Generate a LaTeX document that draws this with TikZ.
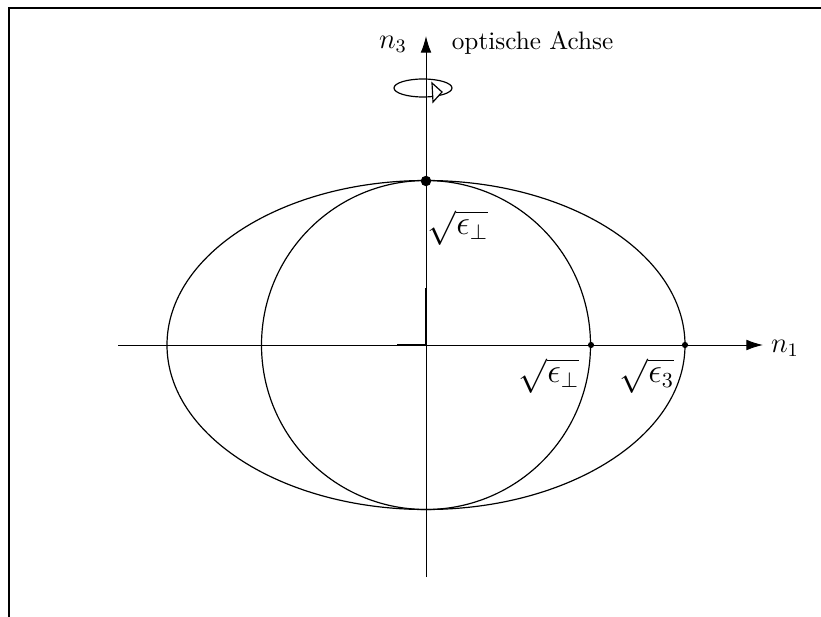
\documentclass[tikz,border=0pt]{standalone}
\usetikzlibrary{arrows.meta,positioning}

\begin{document}
\begin{tikzpicture}[x=0.42pt,y=-0.42pt,
  axis/.style={-{Latex[length=7pt,width=4.5pt]},line width=0.4pt},
  dotsm/.style={circle,fill=black,inner sep=0pt,minimum size=2.6pt},
  dotbig/.style={circle,fill=black,inner sep=0pt,minimum size=4.4pt},
  lbl/.style={inner sep=1pt,font=\fontsize{12}{14}\selectfont},
  rootlbl/.style={inner sep=1pt,font=\fontsize{13.5}{16}\selectfont},
  txt/.style={inner sep=1pt,font=\fontsize{10.6}{13}\selectfont}
]
  \useasboundingbox (0,0) rectangle (821,617);
  \draw[line width=0.8pt] (9,617) -- (9,8) -- (821,8);

  % axes
  \coordinate (O)  at (426,345);
  \coordinate (xs) at (118,345);
  \coordinate (xe) at (763,345);
  \coordinate (ys) at (426,577);
  \coordinate (ye) at (426,36);
  \draw[axis] (xs) -- (xe);
  \draw[axis] (ys) -- (ye);
  \draw[line width=0.8pt] (397,345) -- (O) -- (426,288);

  % circle and ellipse
  \draw[line width=0.5pt] (O) circle[radius=164.5];
  \draw[line width=0.5pt] (O) ellipse[x radius=259,y radius=164.5];

  % rotation sign
  \draw[line width=0.5pt] (423,88) ellipse[x radius=29,y radius=9];
  \draw[line width=0.5pt,fill=white] (432,83) -- (442,92) -- (433,102) -- cycle;

  % points
  \node[dotbig] (top)  at (426,181) {};
  \node[dotsm]  (eprp) at (591,345) {};
  \node[dotsm]  (ethr) at (685,345) {};

  % labels
  \node[lbl] (n3)  at (393,44)  {$n_3$};
  \node[txt,anchor=west] (oa) at (449,43) {optische Achse};
  \node[lbl] (n1)  at (785,348) {$n_1$};
  \node[rootlbl] (ltop) at (458,228) {$\sqrt{\epsilon_\perp}$};
  \node[rootlbl] (lprp) at (549,376) {$\sqrt{\epsilon_\perp}$};
  \node[rootlbl] (lthr) at (647,376) {$\sqrt{\epsilon_3}$};
\end{tikzpicture}
\end{document}
